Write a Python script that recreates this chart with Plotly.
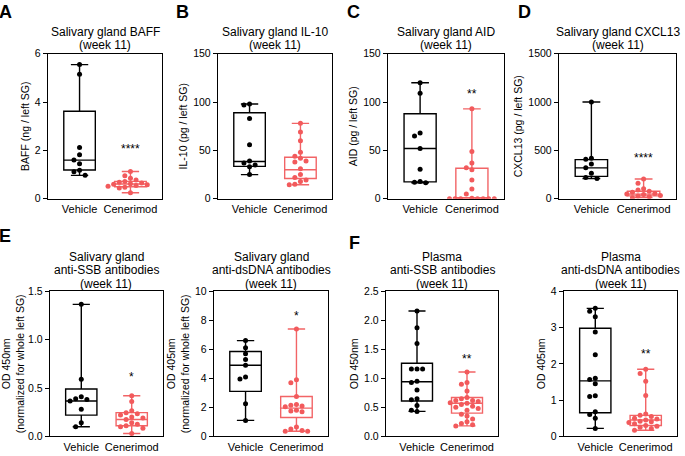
import plotly.graph_objects as go

W, H = 685, 456
FONT = "Liberation Sans, Arial, sans-serif"
BLACK = "#000000"
RED = "#F25A5C"
RED_LINE = "#F26466"

groups = ["Vehicle", "Cenerimod"]

# ---------------- data ----------------
# A: Salivary gland BAFF
A_veh = [5.55, 5.15, 2.12, 1.82, 1.6, 1.45, 1.18, 1.12, 0.97]
A_cen = [1.13, 0.95, 0.85, 0.78, 0.72, 0.68, 0.65, 0.62, 0.6, 0.58, 0.55, 0.52, 0.48, 0.45, 0.25]
A_veh_stats = [0.97, 1.19, 1.6, 3.62, 5.55]   # min, q1, median, q3, max
A_cen_stats = [0.25, 0.5, 0.61, 0.72, 1.13]

# B: Salivary gland IL-10
B_veh = [98, 97, 83, 56, 39, 37, 35, 33, 25]
B_cen = [78, 69, 60, 48, 44, 42, 39, 38, 31, 25, 22, 19.5, 18, 15, 14.5]
B_veh_stats = [25, 33.5, 38.5, 89, 98]
B_cen_stats = [14.5, 21, 30, 43, 78]

# C: Salivary gland AID
C_veh = [120, 109, 68, 65, 52, 30.5, 18, 17, 16.5]
C_cen = [93, 49, 37, 32, 30, 19.5, 10, 5, 0.5, 0, 0, 0, 0, 0, 0, 0]
C_veh_stats = [16.5, 17.5, 52, 88, 120]
C_cen_stats = [0, 0, 0, 31.5, 93]

# D: Salivary gland CXCL13
D_veh = [1000, 420, 410, 360, 320, 265, 220, 210]
D_cen = [205, 160, 105, 90, 78, 68, 55, 50, 45, 35, 28, 22, 12]
D_veh_stats = [210, 232, 320, 405, 1000]
D_cen_stats = [12, 30, 48, 78, 205]

# E1: Salivary gland anti-SSB
E1_veh = [1.365, 0.59, 0.41, 0.39, 0.38, 0.365, 0.28, 0.14, 0.10]
E1_cen = [0.42, 0.36, 0.265, 0.245, 0.235, 0.22, 0.2, 0.19, 0.175, 0.14, 0.125, 0.11, 0.1, 0.085, 0.03]
E1_veh_stats = [0.10, 0.22, 0.365, 0.49, 1.365]
E1_cen_stats = [0.03, 0.11, 0.175, 0.245, 0.42]

# E2: Salivary gland anti-dsDNA
E2_veh = [6.6, 6.1, 5.7, 5.3, 4.9, 4.1, 3.95, 2.25, 1.1]
E2_cen = [7.4, 3.9, 3.7, 2.75, 2.2, 2.15, 2.1, 2.05, 1.8, 1.75, 1.7, 0.65, 0.5, 0.4, 0.35, 0.35]
E2_veh_stats = [1.1, 3.1, 4.9, 5.85, 6.6]
E2_cen_stats = [0.35, 1.3, 1.95, 2.75, 7.4]

# F1: Plasma anti-SSB
F1_veh = [2.16, 1.87, 1.6, 1.16, 1.16, 1.16, 0.95, 0.93, 0.8, 0.65, 0.63, 0.53, 0.45, 0.43]
F1_cen = [1.11, 0.93, 0.9, 0.78, 0.67, 0.65, 0.62, 0.62, 0.6, 0.58, 0.57, 0.55, 0.52, 0.5,
          0.48, 0.45, 0.38, 0.35, 0.3, 0.25, 0.22, 0.2, 0.18]
F1_veh_stats = [0.43, 0.61, 0.94, 1.26, 2.16]
F1_cen_stats = [0.18, 0.4, 0.57, 0.67, 1.11]

# F2: Plasma anti-dsDNA
F2_veh = [3.53, 3.45, 3.3, 2.88, 2.25, 1.6, 1.57, 1.45, 1.12, 1.1, 0.68, 0.6, 0.5, 0.22]
F2_cen = [1.85, 1.73, 1.52, 1.13, 0.62, 0.58, 0.55, 0.5, 0.48, 0.45, 0.42, 0.4, 0.38, 0.35,
          0.3, 0.28, 0.25, 0.22, 0.17]
F2_veh_stats = [0.22, 0.65, 1.53, 2.98, 3.53]
F2_cen_stats = [0.17, 0.3, 0.45, 0.58, 1.85]

titles = [
    ["Salivary gland BAFF", "(week 11)"],
    ["Salivary gland IL-10", "(week 11)"],
    ["Salivary gland AID", "(week 11)"],
    ["Salivary gland CXCL13", "(week 11)"],
    ["Salivary gland", "anti-SSB antibodies", "(week 11)"],
    ["Salivary gland", "anti-dsDNA antibodies", "(week 11)"],
    ["Plasma", "anti-SSB antibodies", "(week 11)"],
    ["Plasma", "anti-dsDNA antibodies", "(week 11)"],
]
ytitles = [
    "BAFF (ng / left SG)",
    "IL-10 (pg / left SG)",
    "AID (pg / left SG)",
    "CXCL13 (pg / left SG)",
    "OD 450nm<br>(normalized for whole left SG)",
    "OD 405nm<br>(normalized for whole left SG)",
    "OD 450nm",
    "OD 405nm",
]
ymax = [6, 150, 150, 1500, 1.5, 10, 2.5, 4]
ydtick = [2, 50, 50, 500, 0.5, 2, 0.5, 1]
ytickformat = ["d", "d", "d", "d", ".1f", "d", ".1f", "d"]
sig_text = ["****", "", "**", "****", "*", "*", "**", "**"]
sig_y = [2.06, None, 108, 425, 0.61, 8.3, 1.33, 2.27]

panels = [
    (A_veh, A_cen, A_veh_stats, A_cen_stats),
    (B_veh, B_cen, B_veh_stats, B_cen_stats),
    (C_veh, C_cen, C_veh_stats, C_cen_stats),
    (D_veh, D_cen, D_veh_stats, D_cen_stats),
    (E1_veh, E1_cen, E1_veh_stats, E1_cen_stats),
    (E2_veh, E2_cen, E2_veh_stats, E2_cen_stats),
    (F1_veh, F1_cen, F1_veh_stats, F1_cen_stats),
    (F2_veh, F2_cen, F2_veh_stats, F2_cen_stats),
]

# ---------------- layout geometry (pixels) ----------------
# (left, right, top, bottom) of each plot frame
frames = [
    (48, 162, 49, 198), (218, 332, 49, 198), (388, 504, 49, 198), (559, 676, 49, 198),
    (50, 163, 293, 442), (214, 328, 293, 442), (386, 498, 293, 442), (564, 677, 293, 442),
]
title_line_y = {2: [27, 40], 3: [258, 271.5, 285]}
letters = [("A", -3, -6), ("B", 174, -6), ("C", 345, -6), ("D", 516, -6),
           ("E", -3, 224), ("F", 347, 231)]
XR = [-0.62, 1.62]


def swarm(vals, gi, ymx, xpx, ypx, diam=5.6):
    """Simple beeswarm: offsets computed from data so markers do not overlap."""
    ys = ypx / ymx
    xs_unit = xpx / (XR[1] - XR[0])
    order = sorted(range(len(vals)), key=lambda i: -vals[i])
    placed = []
    out = [0.0] * len(vals)
    cands = [0.0]
    for j in range(1, 12):
        cands += [-j * diam, j * diam]
    for i in order:
        y = vals[i] * ys
        for c in cands:
            ok = all((c - px) ** 2 + (y - py) ** 2 >= (diam * 0.98) ** 2 for px, py in placed)
            if ok:
                placed.append((c, y))
                out[i] = gi + c / xs_unit
                break
    return out


fig = go.Figure()
layout = dict(
    width=W, height=H, margin=dict(l=0, r=0, t=0, b=0),
    paper_bgcolor="white", plot_bgcolor="white",
    font=dict(family=FONT, size=11, color=BLACK),
    showlegend=False,
)
annotations = []

for k, (veh, cen, vst, cst) in enumerate(panels):
    n = k + 1
    xa = "x" if n == 1 else f"x{n}"
    ya = "y" if n == 1 else f"y{n}"
    L, R, T, B = frames[k]
    xpx = R - L
    ypx = B - T
    for gi, (vals, st, col, lcol) in enumerate([(veh, vst, BLACK, BLACK), (cen, cst, RED, RED_LINE)]):
        fig.add_trace(go.Box(
            x=[gi], lowerfence=[st[0]], q1=[st[1]], median=[st[2]], q3=[st[3]], upperfence=[st[4]],
            width=0.62, whiskerwidth=0.55, boxpoints=False,
            line=dict(color=lcol, width=1.4), fillcolor="rgba(255,255,255,0)",
            xaxis=xa, yaxis=ya, hoverinfo="skip",
        ))
        fig.add_trace(go.Scatter(
            x=swarm(vals, gi, ymax[k], xpx, ypx), y=vals, mode="markers",
            marker=dict(color=col, size=5, line=dict(width=0)),
            xaxis=xa, yaxis=ya, hoverinfo="skip",
        ))
    xkey = "xaxis" if n == 1 else f"xaxis{n}"
    ykey = "yaxis" if n == 1 else f"yaxis{n}"
    layout[xkey] = dict(
        domain=[L / W, R / W], anchor=ya, range=XR, tickmode="array",
        tickvals=[0, 1], ticktext=groups, ticks="", showgrid=False, zeroline=False,
        showline=True, mirror=True, linecolor=BLACK, linewidth=1.4,
        tickfont=dict(size=11, color=BLACK, family=FONT), fixedrange=True,
    )
    layout[ykey] = dict(
        domain=[1 - B / H, 1 - T / H], anchor=xa, range=[0, ymax[k]],
        dtick=ydtick[k], tick0=0, tickformat=ytickformat[k],
        ticks="outside", ticklen=4, tickwidth=1.4, tickcolor=BLACK,
        showgrid=False, zeroline=False, showline=True, mirror=True,
        linecolor=BLACK, linewidth=1.4,
        tickfont=dict(size=10.5, color=BLACK, family=FONT),
        title=dict(text=ytitles[k], font=dict(size=10.5, color=BLACK, family=FONT), standoff=3),
        fixedrange=True,
    )
    # panel title, one annotation per line
    lines = titles[k]
    for line, ly in zip(lines, title_line_y[len(lines)]):
        annotations.append(dict(
            text=line, xref="paper", yref="paper", x=(L + R) / 2 / W, y=1 - ly / H,
            xanchor="center", yanchor="middle", showarrow=False,
            font=dict(size=12, color=BLACK, family=FONT),
        ))
    if sig_text[k]:
        annotations.append(dict(
            text=sig_text[k], xref=xa, yref=ya, x=1, y=sig_y[k], showarrow=False,
            xanchor="center", yanchor="middle", font=dict(size=12, color=BLACK, family=FONT),
        ))

for txt, px, py in letters:
    annotations.append(dict(
        text=f"<b>{txt}</b>", xref="paper", yref="paper", x=px / W, y=1 - py / H,
        xanchor="left", yanchor="top", showarrow=False,
        font=dict(size=18, color=BLACK, family=FONT),
    ))

layout["annotations"] = annotations
fig.update_layout(**layout)
fig.write_html(
    "out.html",
    config={"displayModeBar": False},
    post_script="document.body.style.margin='0';document.body.style.overflow='hidden';",
)
